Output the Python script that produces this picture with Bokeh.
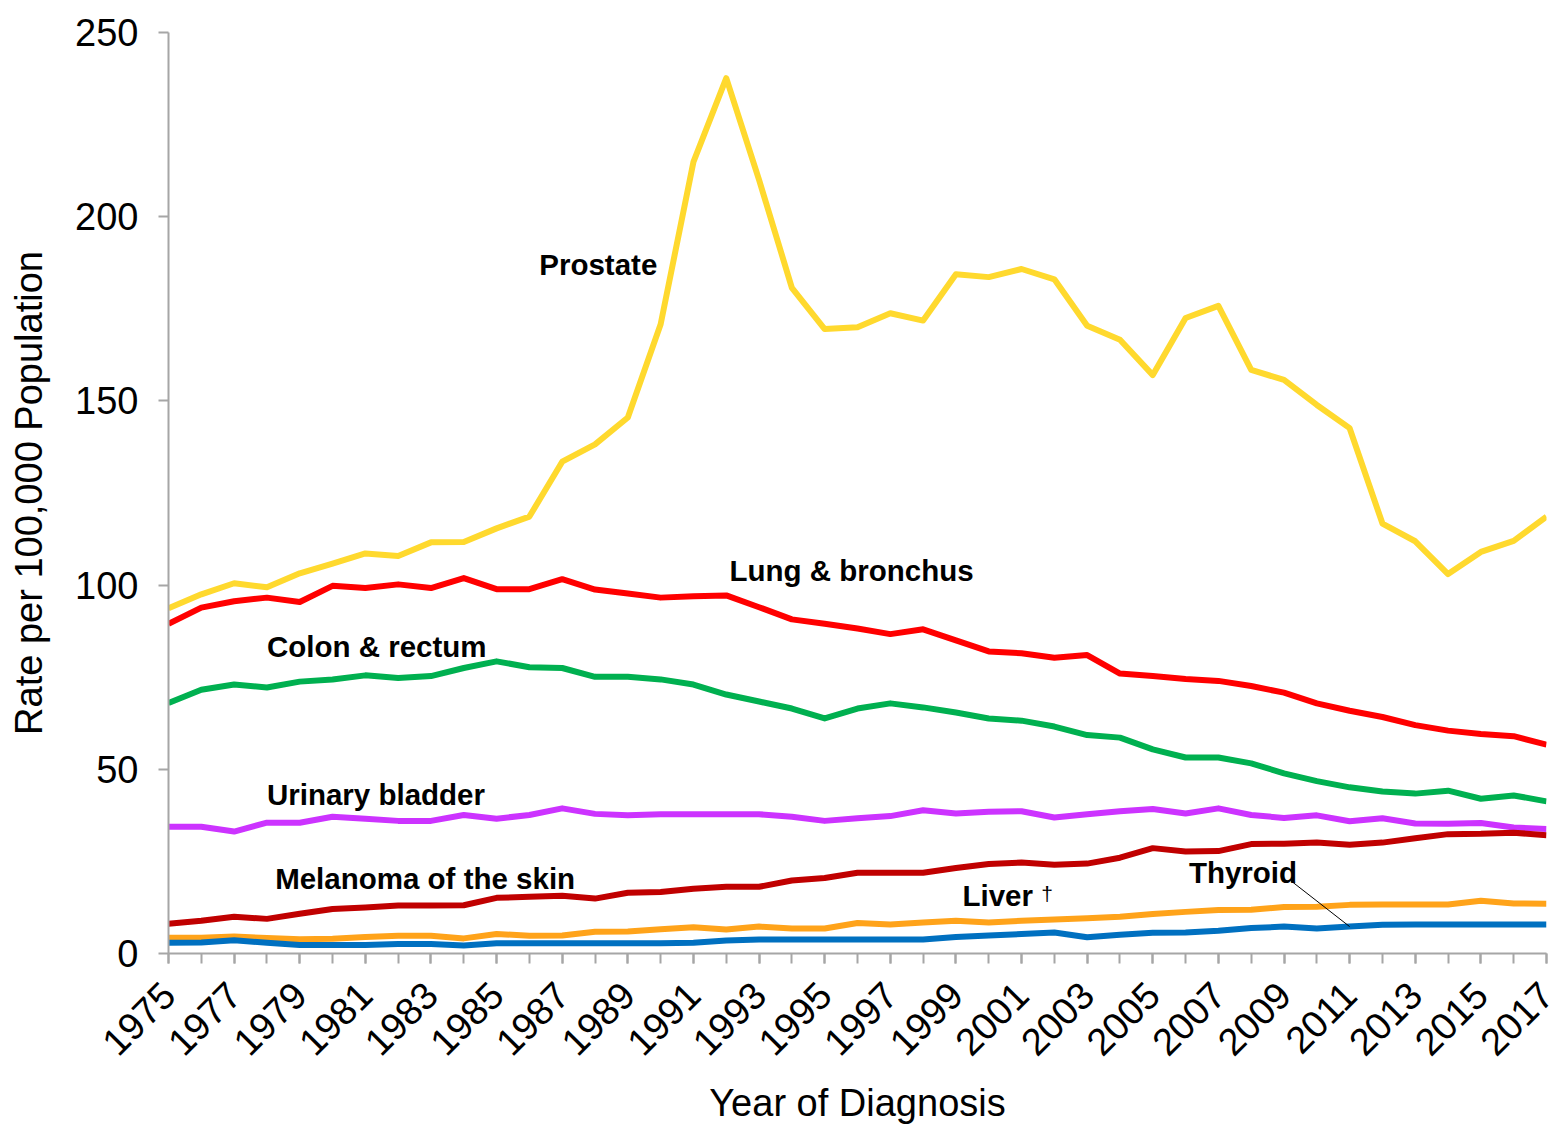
import math
from bokeh.plotting import figure
from bokeh.models import Range1d, FixedTicker
from bokeh.core.properties import value
from bokeh.embed import file_html
from bokeh.resources import INLINE

years = list(range(1975, 2018))

prostate = [93.7, 97.5, 100.5, 99.4, 103.2, 105.8, 108.6, 107.9, 111.6, 111.7,
            115.4, 118.6, 133.5, 138.2, 145.5, 170.8, 214.9, 237.6, 210.0, 180.7,
            169.5, 170.0, 173.8, 171.8, 184.4, 183.6, 185.8, 183.0, 170.4, 166.6,
            157.0, 172.5, 175.8, 158.4, 155.7, 148.9, 142.6, 116.7, 111.9, 103.0,
            109.0, 112.0, 118.6]
lung = [89.5, 93.9, 95.6, 96.6, 95.4, 99.8, 99.2, 100.2, 99.2, 101.9,
        98.9, 98.9, 101.6, 98.8, 97.7, 96.6, 97.0, 97.2, 94.0, 90.7,
        89.5, 88.2, 86.7, 88.0, 85.0, 82.0, 81.5, 80.3, 81.0, 76.0,
        75.3, 74.5, 74.0, 72.6, 70.8, 67.9, 65.9, 64.2, 62.0, 60.5,
        59.6, 59.0, 56.7]
colon = [68.0, 71.6, 73.0, 72.2, 73.8, 74.4, 75.5, 74.8, 75.3, 77.5,
         79.3, 77.7, 77.5, 75.1, 75.1, 74.4, 73.0, 70.3, 68.4, 66.5,
         63.8, 66.5, 67.9, 66.8, 65.4, 63.8, 63.2, 61.6, 59.3, 58.6,
         55.4, 53.2, 53.2, 51.6, 48.9, 46.8, 45.1, 44.0, 43.4, 44.2,
         42.0, 42.9, 41.3]
bladder = [34.4, 34.4, 33.1, 35.5, 35.5, 37.1, 36.6, 36.0, 36.0, 37.6,
           36.6, 37.6, 39.4, 37.9, 37.5, 37.8, 37.8, 37.8, 37.8, 37.1,
           36.0, 36.7, 37.3, 38.9, 38.0, 38.5, 38.6, 36.9, 37.8, 38.6,
           39.2, 38.0, 39.4, 37.6, 36.8, 37.5, 35.9, 36.7, 35.3, 35.2,
           35.4, 34.2, 33.8]
melanoma = [8.1, 8.9, 10.0, 9.4, 10.8, 12.1, 12.5, 13.0, 13.0, 13.1,
            15.1, 15.4, 15.7, 14.9, 16.5, 16.7, 17.6, 18.1, 18.1, 19.8,
            20.5, 21.9, 21.9, 21.9, 23.2, 24.3, 24.7, 24.1, 24.4, 26.0,
            28.6, 27.7, 27.8, 29.7, 29.8, 30.1, 29.5, 30.1, 31.3, 32.4,
            32.5, 32.8, 32.1]
liver = [4.3, 4.3, 4.6, 4.2, 3.9, 4.0, 4.5, 4.8, 4.8, 4.1,
         5.3, 4.8, 4.9, 5.9, 6.0, 6.6, 7.1, 6.5, 7.3, 6.8,
         6.8, 8.3, 7.9, 8.4, 8.9, 8.4, 8.9, 9.2, 9.6, 10.0,
         10.7, 11.3, 11.8, 11.9, 12.6, 12.7, 13.2, 13.3, 13.3, 13.3,
         14.3, 13.6, 13.5]
thyroid = [2.9, 3.0, 3.6, 2.9, 2.3, 2.3, 2.3, 2.6, 2.6, 2.2,
           2.8, 2.8, 2.8, 2.8, 2.8, 2.8, 2.9, 3.5, 3.8, 3.8,
           3.8, 3.8, 3.8, 3.8, 4.5, 4.9, 5.3, 5.7, 4.4, 5.1,
           5.6, 5.7, 6.2, 6.9, 7.3, 6.8, 7.3, 7.8, 7.9, 7.9,
           7.9, 7.9, 7.9]

series = [
    ("Prostate", prostate, "#FFD92E"),
    ("Lung & bronchus", lung, "#FF0000"),
    ("Colon & rectum", colon, "#00B050"),
    ("Urinary bladder", bladder, "#CC33FF"),
    ("Melanoma of the skin", melanoma, "#C00000"),
    ("Liver", liver, "#FFA31A"),
    ("Thyroid", thyroid, "#0070C0"),
]

label_text = ["Prostate", "Lung & bronchus", "Colon & rectum", "Urinary bladder",
              "Melanoma of the skin", "Liver", "Thyroid"]
label_x = [1986.3, 1992.1, 1978.0, 1978.0, 1978.25, 1999.2, 2006.1]
label_y = [187.0, 104.0, 83.3, 43.2, 20.4, 15.7, 22.0]

y_ticks = [0, 50, 100, 150, 200, 250]
x_label_ticks = list(range(1975, 2018, 2))

FONT = "Liberation Sans"
GREY = "#A6A6A6"

p = figure(width=1556, height=1128,
           x_range=Range1d(1975, 2017), y_range=Range1d(0, 250),
           output_backend="svg", toolbar_location=None,
           min_border_left=168, min_border_top=32, min_border_right=10,
           min_border_bottom=175)
p.background_fill_color = "white"
p.border_fill_color = "white"
p.outline_line_color = None
p.xgrid.grid_line_color = None
p.ygrid.grid_line_color = None

for name, vals, col in series:
    p.line(years, vals, line_color=col, line_width=6, line_join="round")

p.text(x=label_x, y=label_y, text=label_text,
       text_font=value(FONT), text_font_style="bold", text_font_size="29.5px",
       text_baseline="middle", text_align="left", text_color="black")
p.text(x=[2001.6], y=[16.4], text=["\u2020"],
       text_font=value(FONT), text_font_size="21px",
       text_baseline="middle", text_align="left", text_color="black")
p.segment(x0=[2009.2], y0=[19.8], x1=[years[36]], y1=[thyroid[36]],
          line_color="black", line_width=1)

# axes
for ax in (p.xaxis[0], p.yaxis[0]):
    ax.axis_line_color = GREY
    ax.axis_line_width = 2
    ax.major_tick_line_color = GREY
    ax.major_tick_line_width = 2
    ax.major_tick_out = 10
    ax.major_tick_in = 0
    ax.major_label_text_font = FONT
    ax.major_label_text_font_size = "38px"
    ax.major_label_text_color = "black"
    ax.axis_label_text_font = FONT
    ax.axis_label_text_font_size = "38px"
    ax.axis_label_text_font_style = "normal"
    ax.axis_label_text_color = "black"

p.xaxis.ticker = FixedTicker(ticks=x_label_ticks, minor_ticks=years)
p.xaxis.minor_tick_line_color = GREY
p.xaxis.minor_tick_line_width = 2
p.xaxis.minor_tick_out = 10
p.xaxis.minor_tick_in = 0
p.xaxis.major_label_orientation = math.pi / 4
p.xaxis.major_label_standoff = 25
p.xaxis.axis_label = "Year of Diagnosis"
p.xaxis.axis_label_standoff = 12

p.yaxis.ticker = FixedTicker(ticks=y_ticks)
p.yaxis.minor_tick_line_color = None
p.yaxis.major_label_standoff = 20
p.yaxis.axis_label = "Rate per 100,000 Population"
p.yaxis.axis_label_standoff = 22

open("out.html", "w").write(file_html(p, INLINE))
